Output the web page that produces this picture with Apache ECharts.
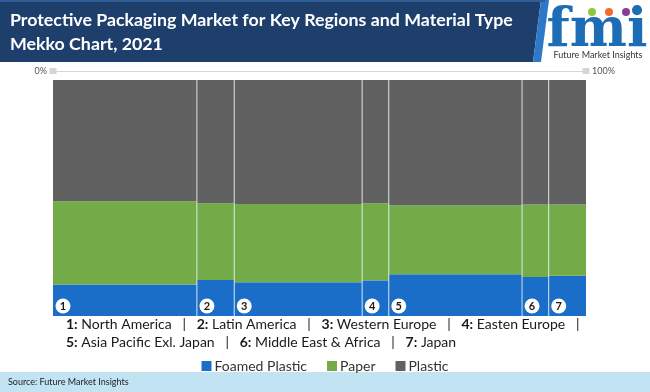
<!DOCTYPE html>
<html>
<head>
<meta charset="utf-8">
<script src="https://cdn.jsdelivr.net/npm/echarts@6/dist/echarts.min.js"></script>
<style>html,body{margin:0;padding:0;background:#fff}#c{width:650px;height:392px}</style>
</head>
<body>
<div id="c"></div>
<script>
const regions = ['North America', 'Latin America', 'Western Europe', 'Easten Europe', 'Asia Pacific Exl. Japan', 'Middle East & Africa', 'Japan'];
const regionShare = [27, 7, 24, 5, 25, 5, 7];
const foamedPlastic = [13.3, 15.3, 14.3, 15.1, 17.7, 16.5, 17.1];
const paper = [35.3, 32.5, 33.2, 32.7, 29.2, 30.7, 30.1];
const plastic = [51.4, 52.2, 52.5, 52.2, 53.1, 52.8, 52.8];
const materials = ['Foamed Plastic', 'Paper', 'Plastic'];
const scaleLabels = ['0%', '100%'];
const colors = ['#1b6ec8', '#72ab48', '#616161'];

const starts = [];
let acc = 0;
regionShare.forEach(s => { starts.push(acc); acc += s; });

function buildData(vals, below) {
  return vals.map((v, i) => {
    const y0 = below.reduce((a, arr) => a + arr[i], 0);
    return [starts[i], starts[i] + regionShare[i], y0, y0 + v, i];
  });
}
const layers = [foamedPlastic, paper, plastic];
const seriesData = layers.map((vals, k) => buildData(vals, layers.slice(0, k)));

function rectItem(params, api) {
  const p0 = api.coord([api.value(0), api.value(2)]);
  const p1 = api.coord([api.value(1), api.value(3)]);
  return {
    type: 'rect',
    shape: { x: p0[0], y: p1[1], width: p1[0] - p0[0], height: p0[1] - p1[1] },
    style: { fill: api.visual('color') }
  };
}

function labelItem(params, api) {
  const i = api.value(2);
  const pTop = api.coord([api.value(0), 100]);
  const pBot = api.coord([api.value(0), 0]);
  const children = [];
  if (i > 0) {
    children.push({ type: 'line', shape: { x1: pTop[0], y1: pTop[1], x2: pBot[0], y2: pBot[1] }, style: { stroke: 'rgba(235,240,245,0.85)', lineWidth: 1 } });
  }
  children.push({ type: 'circle', shape: { cx: pBot[0] + 10, cy: pBot[1] - 10, r: 7.5 }, style: { fill: '#ffffff' } });
  children.push({ type: 'text', style: { text: String(i + 1), x: pBot[0] + 10, y: pBot[1] - 9.5, align: 'center', verticalAlign: 'middle', font: 'bold 11px Lato', fill: '#1a1a1a' } });
  return { type: 'group', children };
}

const series = materials.map((m, k) => ({
  name: m,
  type: 'custom',
  renderItem: rectItem,
  itemStyle: { color: colors[k] },
  encode: { x: [0, 1], y: [2, 3] },
  data: seriesData[k],
  silent: true
}));
series.push({
  type: 'custom',
  renderItem: labelItem,
  encode: { x: 0, y: 1 },
  data: regions.map((r, i) => [starts[i], 0, i]),
  silent: true,
  z: 5
});

const line1 = regions.slice(0, 4).map((r, i) => `{b|${i + 1}:} ${r}`).join('   |   ') + '   |';
const line2 = regions.slice(4).map((r, i) => `{b|${i + 5}:} ${r}`).join('   |   ');
const rich = { b: { fontWeight: 'bold', fontFamily: 'Lato', fontSize: 14, fill: '#1a1a1a' } };

const gridBox = { left: 53, right: 64, top: 80, bottom: 76 };
const topAxisBase = {
  type: 'value', min: 0, max: 100, position: 'top', offset: 9, nameGap: 6,
  nameTextStyle: { color: '#555', fontSize: 9, fontFamily: 'Lato' },
  axisTick: { show: false }, axisLabel: { show: false }, splitLine: { show: false }
};

const chart = echarts.init(document.getElementById('c'), null, { renderer: 'canvas' });
chart.setOption({
  animation: false,
  backgroundColor: '#ffffff',
  grid: [Object.assign({}, gridBox), Object.assign({}, gridBox)],
  xAxis: [
    Object.assign({}, topAxisBase, { gridIndex: 0, name: scaleLabels[0], nameLocation: 'start',
      axisLine: { show: true, onZero: false, lineStyle: { color: '#d6d6d6', width: 1 }, symbol: ['rect', 'rect'], symbolSize: [6, 7] } }),
    Object.assign({}, topAxisBase, { gridIndex: 1, name: scaleLabels[1], nameLocation: 'end',
      axisLine: { show: false, onZero: false } })
  ],
  yAxis: [
    { gridIndex: 0, type: 'value', min: 0, max: 100, show: false },
    { gridIndex: 1, type: 'value', min: 0, max: 100, show: false }
  ],
  legend: {
    data: materials, left: 'center', top: 354, icon: 'rect', itemWidth: 10, itemHeight: 10, itemGap: 20,
    textStyle: { fontSize: 14, color: '#333', fontFamily: 'Lato', padding: [0, 0, 0, -2] }
  },
  series,
  graphic: [
    { type: 'polygon', shape: { points: [[0, 0], [541, 0], [533, 62], [0, 62]] }, style: { fill: '#1e3f6c' } },
    { type: 'polygon', shape: { points: [[541, 0], [549, 0], [541, 62], [533, 62]] }, style: { fill: '#2e78c8' } },
    { type: 'rect', shape: { x: 0, y: 0, width: 545, height: 2 }, style: { fill: '#2f5f95' } },
    { type: 'text', style: { text: 'Protective Packaging Market for Key Regions and Material Type', x: 10, y: 20, verticalAlign: 'middle', font: 'bold 17.8px Lato', fill: '#ffffff' } },
    { type: 'text', style: { text: 'Mekko Chart, 2021', x: 10, y: 44, verticalAlign: 'middle', font: 'bold 17.8px Lato', fill: '#ffffff' } },
    { type: 'text', style: { text: 'fmi', x: 597, y: 32, align: 'center', verticalAlign: 'middle', font: 'bold 54px "DejaVu Serif"', fill: '#1c6db5' } },
    { type: 'circle', shape: { cx: 592, cy: 12, r: 4 }, style: { fill: '#8dc63f' } },
    { type: 'circle', shape: { cx: 609, cy: 12, r: 4 }, style: { fill: '#f26b2d' } },
    { type: 'circle', shape: { cx: 626, cy: 12, r: 4 }, style: { fill: '#8a3c96' } },
    { type: 'text', style: { text: 'Future Market Insights', x: 598, y: 55, align: 'center', verticalAlign: 'middle', font: '9px "Liberation Sans Narrow", Lato', fill: '#333' } },
    { type: 'text', style: { text: line1, x: 66, y: 324, verticalAlign: 'middle', font: '14px Lato', fill: '#1a1a1a', rich } },
    { type: 'text', style: { text: line2, x: 66, y: 342, verticalAlign: 'middle', font: '14px Lato', fill: '#1a1a1a', rich } },
    { type: 'rect', shape: { x: 0, y: 372, width: 650, height: 20 }, style: { fill: '#c2e4f2' } },
    { type: 'text', style: { text: 'Source: Future Market Insights', x: 8, y: 382, verticalAlign: 'middle', font: '9px Lato', fill: '#222' } }
  ]
});
</script>
</body>
</html>
